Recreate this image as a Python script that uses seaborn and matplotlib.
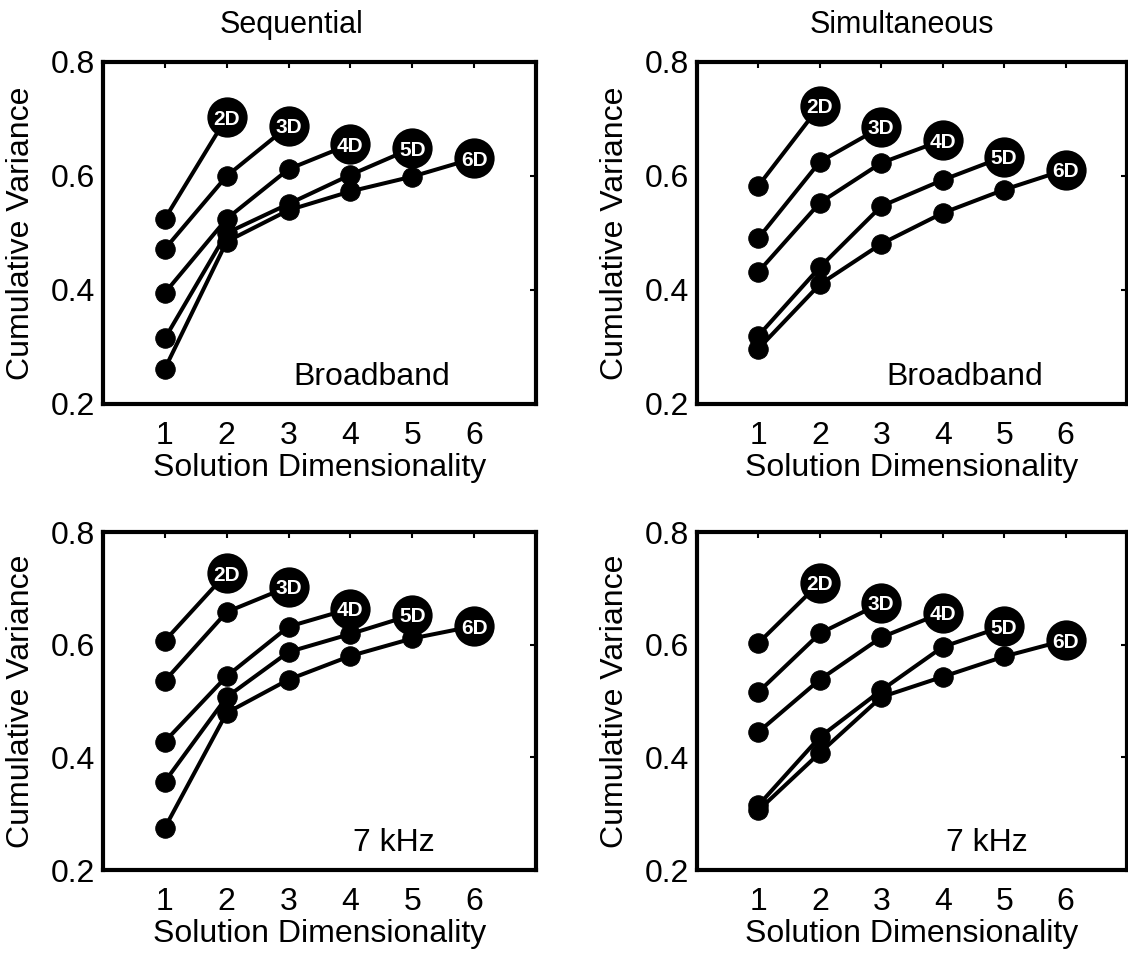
import numpy as np
import pandas as pd
import matplotlib
matplotlib.use("Agg")
import matplotlib.pyplot as plt
import seaborn as sns

# cumulative variance for each solution (2D..6D)
seq_broadband = [
    [0.525, 0.703],
    [0.472, 0.600, 0.688],
    [0.395, 0.525, 0.612, 0.656],
    [0.315, 0.500, 0.551, 0.602, 0.649],
    [0.262, 0.485, 0.540, 0.573, 0.599, 0.631],
]
sim_broadband = [
    [0.583, 0.723],
    [0.491, 0.625, 0.686],
    [0.432, 0.553, 0.623, 0.663],
    [0.320, 0.440, 0.547, 0.593, 0.634],
    [0.297, 0.410, 0.481, 0.535, 0.576, 0.611],
]
seq_7khz = [
    [0.607, 0.727],
    [0.536, 0.658, 0.703],
    [0.428, 0.544, 0.632, 0.664],
    [0.357, 0.507, 0.587, 0.619, 0.653],
    [0.275, 0.479, 0.538, 0.580, 0.611, 0.633],
]
sim_7khz = [
    [0.603, 0.710],
    [0.516, 0.620, 0.674],
    [0.445, 0.538, 0.613, 0.657],
    [0.315, 0.436, 0.519, 0.596, 0.633],
    [0.306, 0.408, 0.507, 0.543, 0.579, 0.608],
]
col_titles = ["Sequential", "Simultaneous"]
x_ticks = [1, 2, 3, 4, 5, 6]
y_ticks = [0.2, 0.4, 0.6, 0.8]

sns.set_style("white")
plt.rcParams['font.family'] = ['Liberation Sans', 'DejaVu Sans']
plt.rcParams['text.color'] = 'black'
plt.rcParams['axes.labelcolor'] = 'black'

W, H = 1128, 959
fig = plt.figure(figsize=(W / 100, H / 100), dpi=100)


def add_axes(x0, y0, x1, y1):
    return fig.add_axes([x0 / W, 1 - y1 / H, (x1 - x0) / W, (y1 - y0) / H])


def to_frame(curves):
    rows = []
    for curve in curves:
        name = f"{len(curve)}D"
        for i, v in enumerate(curve):
            rows.append({'dim': i + 1, 'var': v, 'solution': name})
    return pd.DataFrame(rows)


def draw_panel(ax, curves, note, note_x):
    df = to_frame(curves)
    sns.lineplot(data=df, x='dim', y='var', units='solution', estimator=None,
                 sort=False, color='black', lw=2.9, marker='o', markersize=14,
                 markeredgecolor='black', ax=ax, legend=False)
    ends = df.groupby('solution').tail(1)
    sns.scatterplot(data=ends, x='dim', y='var', s=29 ** 2, color='black',
                    linewidth=0, ax=ax, zorder=5, legend=False)
    for _, r in ends.iterrows():
        ax.text(r['dim'], r['var'], r['solution'], color='white', fontsize=15,
                fontweight='bold', ha='center', va='center_baseline', zorder=6)
    ax.text(note_x, 0.248, note, fontsize=23, ha='center', va='center')

    ax.set_xlim(0, 7)
    ax.set_ylim(0.2, 0.8)
    ax.set_xticks(x_ticks)
    ax.set_yticks(y_ticks)
    ax.set_yticklabels([f"{t:.1f}" for t in y_ticks])
    ax.tick_params(direction='in', length=4, width=1.5, top=True, right=True,
                   labelsize=23, colors='black')
    ax.tick_params(axis='x', pad=12)
    ax.tick_params(axis='y', pad=6)
    ax.set_xlabel("Solution Dimensionality", fontsize=23, labelpad=2)
    ax.set_ylabel("Cumulative Variance", fontsize=23, labelpad=10)
    for sp in ax.spines.values():
        sp.set_visible(True)
        sp.set_linewidth(3)
        sp.set_color('black')


ax1 = add_axes(103, 62, 536, 404)
ax2 = add_axes(697, 62, 1127, 404)
ax3 = add_axes(103, 532, 536, 870)
ax4 = add_axes(697, 532, 1127, 870)

draw_panel(ax1, seq_broadband, "Broadband", 4.35)
draw_panel(ax2, sim_broadband, "Broadband", 4.36)
draw_panel(ax3, seq_7khz, "7 kHz", 4.7)
draw_panel(ax4, sim_7khz, "7 kHz", 4.72)

fig.text(291 / W, 1 - 25 / H, col_titles[0], fontsize=22, ha='center', va='center')
fig.text(902 / W, 1 - 25 / H, col_titles[1], fontsize=22, ha='center', va='center')

fig.savefig("out.png", dpi=100)
